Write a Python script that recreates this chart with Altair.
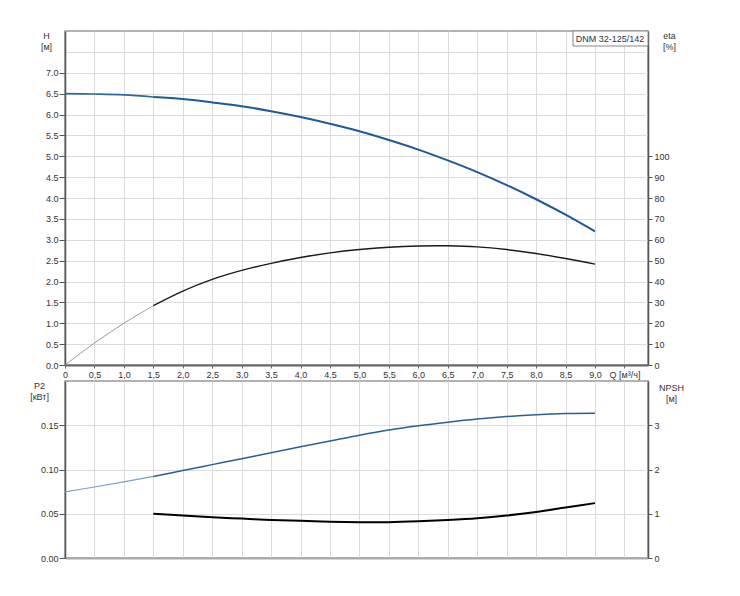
import pandas as pd
import altair as alt

# Pump curves (Q in m3/h)
model = "DNM 32-125/142"
q = [0, 0.5, 1.0, 1.5, 2.0, 2.5, 3.0, 3.5, 4.0, 4.5, 5.0, 5.5, 6.0, 6.5, 7.0, 7.5, 8.0, 8.5, 9.0]
head = [6.50, 6.49, 6.47, 6.42, 6.37, 6.29, 6.20, 6.08, 5.94, 5.78, 5.60, 5.39, 5.16, 4.90, 4.62, 4.31, 3.97, 3.60, 3.20]
eta = [0, 10.5, 20.0, 28.4, 35.4, 41.0, 45.3, 48.7, 51.5, 53.7, 55.3, 56.4, 57.0, 57.1, 56.6, 55.3, 53.4, 51.0, 48.3]
p2 = [0.0748, 0.0802, 0.0860, 0.0922, 0.0988, 0.1055, 0.1122, 0.1190, 0.1256, 0.1322, 0.1388, 0.1447,
      0.1495, 0.1535, 0.1570, 0.1598, 0.1619, 0.1632, 0.1635]
npsh_q = [1.5, 2.0, 2.5, 3.0, 3.5, 4.0, 4.5, 5.0, 5.5, 6.0, 6.5, 7.0, 7.5, 8.0, 8.5, 9.0]
npsh = [1.00, 0.96, 0.92, 0.89, 0.86, 0.84, 0.82, 0.81, 0.81, 0.83, 0.86, 0.90, 0.96, 1.04, 1.14, 1.24]

q_ticks = [i * 0.5 for i in range(20)]
h_ticks = [i * 0.5 for i in range(16)]
eta_ticks = list(range(0, 101, 10))
p2_ticks = [0, 0.05, 0.10, 0.15]
npsh_ticks = [0, 1, 2, 3]


def rows(series, qs, vals):
    out = []
    for x, v in zip(qs, vals):
        if x <= 1.5:
            out.append({"Q": x, "series": series, "seg": "ext", "value": v})
        if x >= 1.5:
            out.append({"Q": x, "series": series, "seg": "main", "value": v})
    return out


top_df = pd.DataFrame(rows("H", q, head) + rows("eta", q, eta))
bot_df = pd.DataFrame(rows("P2", q, p2) + rows("NPSH", npsh_q, npsh))

FONT = "Liberation Sans"
W, H_TOP, H_BOT = 583, 334, 177
x_scale = alt.Scale(domain=[0, 9.9], nice=False, zero=False)
seg_dom = ["ext", "main"]

x_top = alt.X("Q:Q", scale=x_scale, axis=alt.Axis(
    values=q_ticks, title=None, labelFlush=False, tickSize=3, labelPadding=2,
    domainColor="#666", domainWidth=2, tickColor="#666",
    labelExpr="datum.value == 0 ? '0' : datum.value == 9.5 ? 'Q [м³/ч]' : replace(format(datum.value, '.1f'), '.', ',')",
))
x_bot = alt.X("Q:Q", scale=x_scale, axis=alt.Axis(
    values=q_ticks, title=None, labels=False, ticks=False,
    domainColor="#aaa", domainWidth=2,
))


def curve(df, x, series, y, colors, widths):
    return alt.Chart(df).transform_filter(f"datum.series == '{series}'").mark_line(
        interpolate="catmull-rom"
    ).encode(
        x=x,
        y=y,
        color=alt.Color("seg:N", scale=alt.Scale(domain=seg_dom, range=colors), legend=None),
        strokeWidth=alt.StrokeWidth("seg:N", scale=alt.Scale(domain=seg_dom, range=widths), legend=None),
    )


y_head = alt.Y("value:Q", scale=alt.Scale(domain=[0, 8], nice=False), axis=alt.Axis(
    values=h_ticks, title=["H", "[м]"], titleAngle=0, titleX=-19, titleY=0,
    titleBaseline="top", titleAlign="center", tickSize=6, labelPadding=1,
    domainColor="#555", domainWidth=1.5,
    tickColor={"condition": {"test": "datum.value > 7", "value": "transparent"}, "value": "#555"},
    labelExpr="datum.value > 7 ? '' : format(datum.value, '.1f')",
))
y_eta = alt.Y("value:Q", scale=alt.Scale(domain=[0, 160], nice=False), axis=alt.Axis(
    orient="right", values=eta_ticks, grid=False, title=["eta", "[%]"], titleAngle=0,
    titleX=21, titleY=0, titleBaseline="top", titleAlign="center", tickSize=4, labelPadding=2,
    domainColor="#555", domainWidth=1.5, tickColor="#555", format="d",
))
y_p2 = alt.Y("value:Q", scale=alt.Scale(domain=[0, 0.2], nice=False), axis=alt.Axis(
    values=p2_ticks, title=["P2", "[кВт]"], titleAngle=0, titleX=-26, titleY=0,
    titleBaseline="top", titleAlign="center", tickSize=6, labelPadding=1,
    domainColor="#555", domainWidth=1.5, tickColor="#555", format=".2f",
))
y_npsh = alt.Y("value:Q", scale=alt.Scale(domain=[0, 4], nice=False), axis=alt.Axis(
    orient="right", values=npsh_ticks, grid=False, title=["NPSH", "[м]"], titleAngle=0,
    titleX=23, titleY=2, titleBaseline="top", titleAlign="center", tickSize=4, labelPadding=2,
    domainColor="#555", domainWidth=1.5, tickColor="#555", format="d",
))

label_df = pd.DataFrame({"label": [model]})
label_box = alt.Chart(label_df).mark_rect(fill="white", stroke="#888", strokeWidth=1).encode(
    x=alt.value(508), x2=alt.value(W), y=alt.value(0), y2=alt.value(15)
)
label_text = alt.Chart(label_df).mark_text(font=FONT, fontSize=9, color="#333").encode(
    x=alt.value(545), y=alt.value(8), text="label:N"
)

top = alt.layer(
    curve(top_df, x_top, "H", y_head, ["#2f67a3", "#1f5a96"], [1.6, 2]),
    curve(top_df, x_top, "eta", y_eta, ["#9a9a9a", "#1a1a1a"], [1, 1.4]),
    label_box,
    label_text,
).resolve_scale(y="independent", color="independent", strokeWidth="independent").properties(
    width=W, height=H_TOP
)

bottom = alt.layer(
    curve(bot_df, x_bot, "P2", y_p2, ["#7f9fc4", "#2a5f98"], [1.2, 1.5]),
    curve(bot_df, x_bot, "NPSH", y_npsh, ["#000000", "#000000"], [2, 2]),
).resolve_scale(y="independent", color="independent", strokeWidth="independent").properties(
    width=W, height=H_BOT
)

chart = alt.vconcat(top, bottom, spacing=16, bounds="flush").properties(
    padding={"left": 20, "top": 21, "right": 10, "bottom": 10},
).configure_axis(
    labelFont=FONT, labelFontSize=9, labelColor="#333",
    titleFont=FONT, titleFontSize=9, titleColor="#333", titleFontWeight="normal",
    titleLineHeight=11, gridColor="#dcdcdc", gridWidth=1,
).configure_view(stroke="#999", strokeWidth=1.5)

chart.save("out.html", embed_options={"renderer": "svg", "actions": False})
